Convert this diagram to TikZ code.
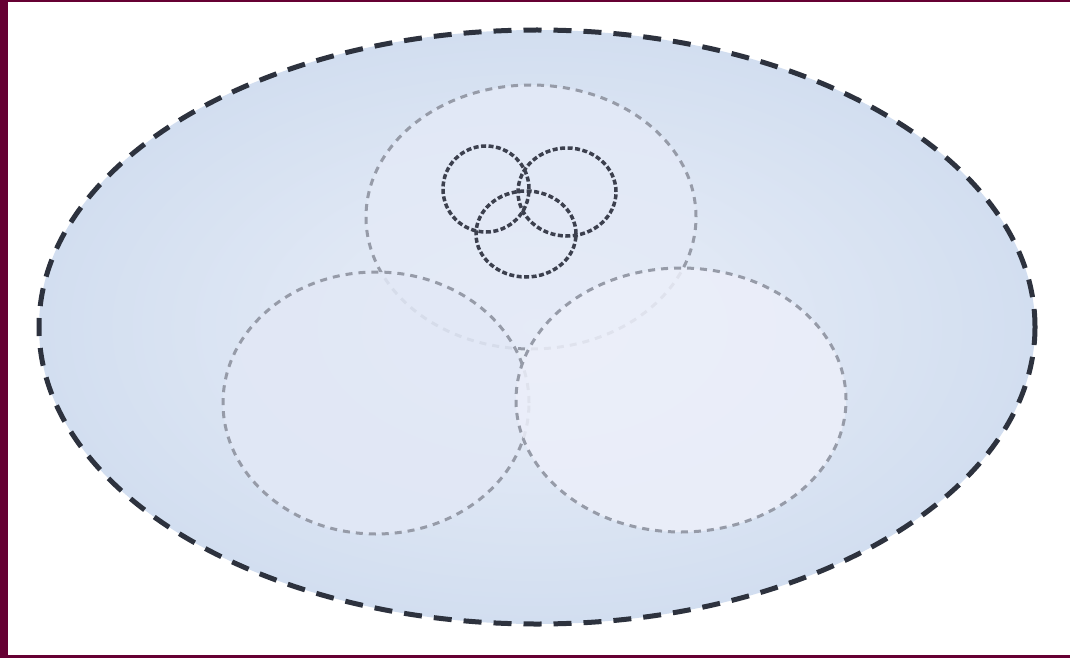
\documentclass[tikz,border=0pt]{standalone}
\usetikzlibrary{shapes.geometric}
\definecolor{frame}{RGB}{102,0,51}
\definecolor{bigin}{RGB}{234,239,248}
\definecolor{bigout}{RGB}{210,222,240}
\definecolor{bigline}{RGB}{45,50,62}
\definecolor{midline}{RGB}{150,155,168}
\definecolor{smallline}{RGB}{60,64,78}
\definecolor{leftfill}{RGB}{226,232,246}
\definecolor{rightfill}{RGB}{236,239,250}
\definecolor{topfill}{RGB}{228,234,247}
\tikzset{
  bigell/.style={ellipse, inner sep=0pt, draw=bigline, line width=5pt,
    dash pattern=on 18pt off 12pt, inner color=bigin, outer color=bigout},
  midell/.style={ellipse, inner sep=0pt, draw=midline, line width=3pt,
    dash pattern=on 7pt off 6pt},
  smallell/.style={ellipse, inner sep=0pt, draw=smallline, line width=3.5pt,
    dash pattern=on 5pt off 2.5pt},
}
\begin{document}
\begin{tikzpicture}[x=1pt,y=-1pt]
\useasboundingbox (0,0) rectangle (1070,658);
\fill[white] (0,0) rectangle (1070,658);
\fill[frame] (0,0) rectangle (8,658);
\fill[frame] (0,0) rectangle (1070,2);
\fill[frame] (0,655) rectangle (1070,658);
\node[bigell, minimum width=996pt, minimum height=594pt] (big) at (537,327) {};
\node[midell, fill=topfill, fill opacity=0.8, minimum width=330pt, minimum height=264pt] (top) at (531,217) {};
\node[midell, fill=leftfill, fill opacity=0.85, minimum width=306pt, minimum height=262pt] (left) at (376,403) {};
\node[midell, fill=rightfill, fill opacity=0.85, minimum width=330pt, minimum height=264pt] (right) at (681,400) {};
\node[smallell, minimum width=86pt, minimum height=86pt] (ca) at (486,189) {};
\node[smallell, minimum width=98pt, minimum height=88pt] (cb) at (567,192) {};
\node[smallell, minimum width=100pt, minimum height=86pt] (cc) at (526,234) {};
\end{tikzpicture}
\end{document}
